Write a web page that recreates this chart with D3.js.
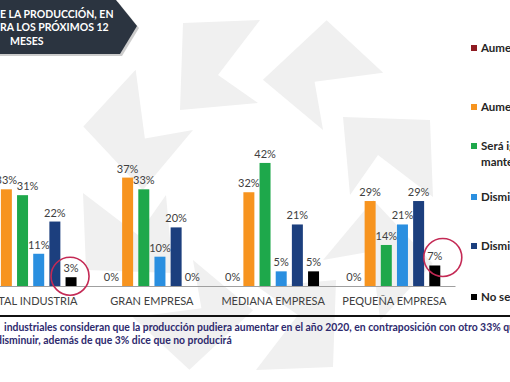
<!DOCTYPE html>
<html>
<head>
<meta charset="utf-8">
<script src="https://cdn.jsdelivr.net/npm/d3@7"></script>
<style>
  html, body { margin: 0; padding: 0; background: #fff; }
  svg { display: block; font-family: Lato, "Open Sans", sans-serif; }
</style>
</head>
<body>
<svg id="chart" width="510" height="382"></svg>
<script>
// data
const categories = ["TOTAL INDUSTRIA", "GRAN EMPRESA", "MEDIANA EMPRESA", "PEQUEÑA EMPRESA"];
const seriesNames = ["Aumentará considerablemente", "Aumentará", "Será igual o se mantendrá", "Disminuirá", "Disminuirá considerablemente", "No se producirá"];
const seriesColors = ["#8e1b22", "#f7941f", "#1ea84b", "#2a8fe0", "#1c3f7e", "#000000"];
const aumentaraMucho = [0, 0, 0, 0];
const aumentara = [33, 37, 32, 29];
const seraIgual = [31, 33, 42, 14];
const disminuira = [11, 10, 5, 21];
const disminuiraMucho = [22, 20, 21, 29];
const noProducira = [3, 0, 5, 7];
const seriesValues = [aumentaraMucho, aumentara, seraIgual, disminuira, disminuiraMucho, noProducira];
const titleLines = ["E LA PRODUCCIÓN, EN", "RA LOS PRÓXIMOS 12", "MESES"];
const footerLines = [
  "industriales consideran que la producción pudiera aumentar en el año 2020, en contraposición con otro 33% que",
  "disminuir, además de que 3% dice que no producirá"
];
const highlights = [["TOTAL INDUSTRIA", 5], ["PEQUEÑA EMPRESA", 5]];

const svg = d3.select("#chart");

// watermark logo in the background
const wm = svg.append("g").attr("transform", "translate(258,195)");
const piece = [[-75, -172], [2, -175], [-40, -120], [0, -92], [-78, -85]];
d3.range(8).forEach(i => {
  wm.append("polygon")
    .attr("points", piece.map(p => p.join(",")).join(" "))
    .attr("transform", `rotate(${i * 45})`)
    .attr("fill", "#f0f0f0");
});

// title banner
const banner = svg.append("g");
banner.append("polygon")
  .attr("points", "0,2 118,2 139,28 122,56 0,56")
  .attr("fill", "#9a9a9a").attr("opacity", 0.5);
banner.append("polygon")
  .attr("points", "0,0 116,0 137,26 120,54 0,54")
  .attr("fill", "#2b3440");
banner.selectAll("text").data(titleLines).join("text")
  .attr("x", (d, i) => i == 2 ? 10 : 0)
  .attr("y", (d, i) => [18, 31, 45][i])
  .attr("fill", "#fff")
  .attr("font-weight", "bold")
  .attr("font-size", 10.5)
  .text(d => d);

// scales
const x0 = d3.scaleBand().domain(categories).range([-30, 455]).paddingInner(0.2).paddingOuter(0.1);
const x1 = d3.scaleBand().domain(d3.range(seriesNames.length)).range([0, x0.bandwidth()])
  .paddingInner(0.32).paddingOuter(0.16);
const y = d3.scaleLinear().domain([0, 45]).range([286, 286 - 45 * 2.93]);

const groups = svg.append("g").selectAll("g").data(categories).join("g")
  .attr("transform", d => `translate(${x0(d)},0)`);

groups.selectAll("rect").data((c, ci) => seriesValues.map((s, si) => ({si, v: s[ci]})))
  .join("rect")
  .attr("x", d => x1(d.si))
  .attr("width", x1.bandwidth())
  .attr("y", d => y(d.v))
  .attr("height", d => y(0) - y(d.v))
  .attr("fill", d => seriesColors[d.si]);

groups.selectAll("text.val").data((c, ci) => seriesValues.map((s, si) => ({ci, si, v: s[ci]})))
  .join("text")
  .attr("class", "val")
  // the first group's green label is pushed right in the original to clear its neighbour
  .attr("x", d => x1(d.si) + x1.bandwidth() / 2 + (d.ci == 0 && d.si == 2 ? 5 : 0))
  .attr("y", d => y(d.v) - 5)
  .attr("text-anchor", "middle")
  .attr("font-size", 11)
  .attr("fill", "#404040")
  .text(d => d.v + "%");

// axis
const axis = svg.append("g").attr("transform", `translate(0,${y(0)})`)
  .call(d3.axisBottom(x0).tickSize(0).tickPadding(11));
axis.select(".domain").attr("stroke", "#a0a0a0");
axis.selectAll("text").attr("font-size", 11).attr("fill", "#404040")
  .attr("font-family", "Lato, sans-serif");

// red circles
highlights.forEach(([c, si]) => {
  const ci = categories.indexOf(c);
  const v = seriesValues[si][ci];
  svg.append("circle")
    .attr("cx", x0(c) + x1(si) + x1.bandwidth() / 2 + (ci == 0 ? -1 : 8))
    .attr("cy", y(v) - (ci == 0 ? 1 : 8))
    .attr("r", 19)
    .attr("fill", "none")
    .attr("stroke", "#c42a55")
    .attr("stroke-width", 1.6);
});

// legend
const legendY = [48, 107, 146, 197, 246, 297];
const legend = svg.append("g").selectAll("g").data(seriesNames).join("g")
  .attr("transform", (d, i) => `translate(471,${legendY[i]})`);
legend.append("rect").attr("x", 0).attr("y", -3).attr("width", 6).attr("height", 6)
  .attr("fill", (d, i) => seriesColors[i]);
legend.append("text").attr("x", 10).attr("y", 4)
  .attr("font-size", 11.5).attr("font-weight", "bold").attr("fill", "#262626")
  .text(d => d == "Será igual o se mantendrá" ? "Será igual o se" : d);
legend.filter(d => d == "Será igual o se mantendrá").append("text")
  .attr("x", 10).attr("y", 20)
  .attr("font-size", 11.5).attr("font-weight", "bold").attr("fill", "#262626")
  .text("mantendrá");

// separator and footer
svg.append("line").attr("x1", 0).attr("x2", 510).attr("y1", 316).attr("y2", 316)
  .attr("stroke", "#111").attr("stroke-width", 2);
svg.selectAll("text.foot").data(footerLines).join("text")
  .attr("class", "foot")
  .attr("x", (d, i) => i == 0 ? 4 : -4)
  .attr("y", (d, i) => [331, 344][i])
  .attr("font-size", 10.4)
  .attr("font-weight", "bold")
  .attr("fill", "#2e2a6e")
  .text(d => d);
</script>
</body>
</html>
